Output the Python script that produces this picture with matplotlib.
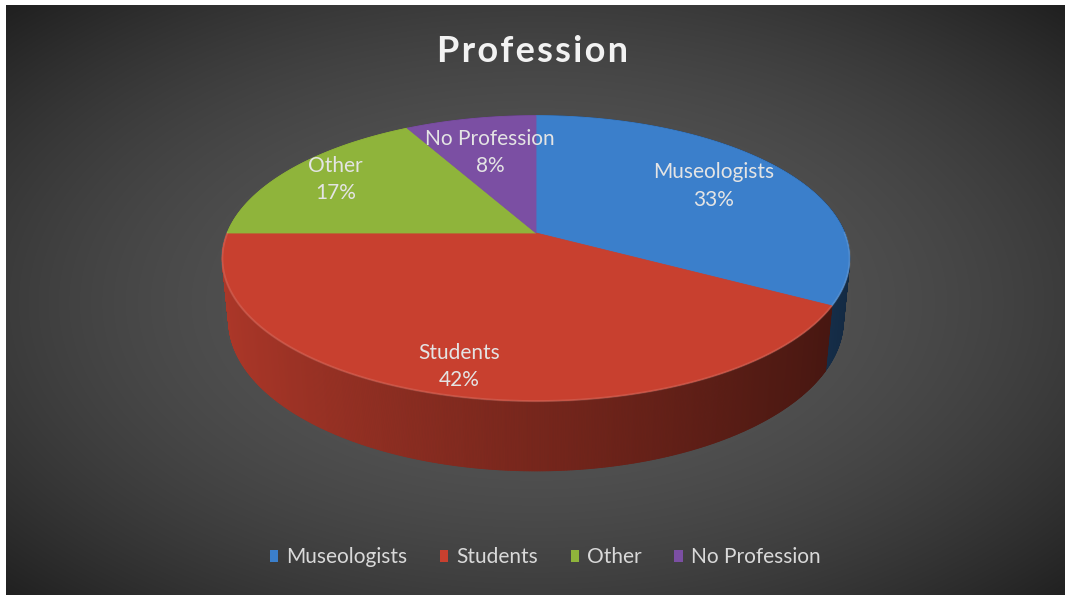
import numpy as np
import matplotlib.pyplot as plt
from matplotlib.collections import PolyCollection
from matplotlib.patches import Polygon, Patch
from matplotlib.colors import to_rgb

# Profession breakdown (percent)
labels = ['Museologists', 'Students', 'Other', 'No Profession']
shares = [33, 42, 17, 8]
colors = ['#3b7fcb', '#c8402f', '#8fb43b', '#7b4fa3']

# where each data label sits, as a fraction of the radius
label_r = [0.71, 0.85, 0.81, 0.67]

W, H = 1065, 595

# simple pinhole camera looking down at a flat cylinder
cx, cy = 536, 233
scale = 1553.0
elev = np.radians(26.6)
dist = 5.03
depth = 0.225


def project(phi, y=0.0, r=1.0):
    x = r * np.sin(phi)
    z = r * np.cos(phi)
    zc = dist - y * np.sin(elev) + z * np.cos(elev)
    yc = y * np.cos(elev) + z * np.sin(elev)
    return cx + scale * x / zc, cy - scale * yc / zc, zc


fig = plt.figure(figsize=(W / 100, H / 100), dpi=100, facecolor='white')
ax = fig.add_axes([0, 0, 1, 1])
ax.set_xlim(0, W)
ax.set_ylim(H, 0)
ax.axis('off')

# dark radial background
yy, xx = np.mgrid[0:H, 0:W]
rr = ((xx - 533) / 530.0) ** 2 + ((yy - 300) / 300.0) ** 2
grey = np.clip(88 - 28 * rr, 28, 255) / 255.0
ax.imshow(np.dstack([grey, grey, grey]), extent=[6, W, H, 5], zorder=0,
          interpolation='bilinear')

fracs = np.array(shares, dtype=float) / sum(shares)
bounds = 2 * np.pi * np.concatenate([[0], np.cumsum(fracs)])

# side wall, drawn far-to-near in thin strips
n = 1440
phis = np.linspace(0, 2 * np.pi, n + 1)
polys, fcols, zs = [], [], []
for a, b in zip(phis[:-1], phis[1:]):
    m = 0.5 * (a + b)
    k = min(np.searchsorted(bounds, m) - 1, len(shares) - 1)
    x1, y1, _ = project(a)
    x2, y2, _ = project(b)
    x3, y3, _ = project(b, -depth)
    x4, y4, _ = project(a, -depth)
    _, _, zm = project(m, -depth / 2)
    t = (1 - np.sin(m)) / 2
    shade = 0.32 + 0.55 * t
    c = np.array(to_rgb(colors[k])) * shade
    polys.append([(x1, y1), (x2, y2), (x3, y3), (x4, y4)])
    fcols.append(np.clip(c, 0, 1))
    zs.append(zm)
order = np.argsort(zs)[::-1]
side = PolyCollection([polys[i] for i in order],
                      facecolors=[fcols[i] for i in order],
                      edgecolors=[fcols[i] for i in order],
                      linewidths=0.6, zorder=2)
ax.add_collection(side)

# top face
for k in range(len(shares)):
    arc = np.linspace(bounds[k], bounds[k + 1], 200)
    px, py, _ = project(arc)
    pts = np.column_stack([np.r_[cx, px], np.r_[cy, py]])
    ax.add_patch(Polygon(pts, closed=True, facecolor=colors[k],
                         edgecolor=colors[k], lw=0.6, zorder=3))

# soft highlight along the front rim
rim = np.linspace(np.pi / 2, 3 * np.pi / 2, 300)
rx, ry, _ = project(rim)
ax.plot(rx, ry, color='white', alpha=0.12, lw=1.5, zorder=4)

# data labels
for k in range(len(shares)):
    mid = 0.5 * (bounds[k] + bounds[k + 1])
    lx, ly, _ = project(mid, 0.0, label_r[k])
    ax.text(lx, ly, '%s\n%d%%' % (labels[k], shares[k]), ha='center',
            va='center', color='#e4e4e4', fontsize=15, family='Lato',
            linespacing=1.45, zorder=5)

# title, letter-spaced with hair spaces
fig.text(0.5, 1 - 52 / H, '\u200a'.join('Profession'), ha='center',
         va='center', color='#f2f2f2', fontsize=26, fontweight='bold',
         family=['Lato', 'DejaVu Sans'])

handles = [Patch(facecolor=c, edgecolor='none') for c in colors]
fig.legend(handles, labels, loc='center', bbox_to_anchor=(0.512, 1 - 557 / H),
           ncol=4, frameon=False, handlelength=0.4, handleheight=0.5,
           handletextpad=0.4, columnspacing=1.55,
           prop={'family': 'Lato', 'size': 15}, labelcolor='#d9d9d9')

fig.savefig('out.png', dpi=100, facecolor=fig.get_facecolor())
